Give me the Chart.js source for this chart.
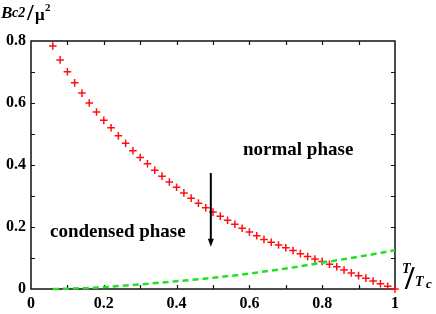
<!DOCTYPE html>
<html><head><meta charset="utf-8">
<script src="https://cdn.jsdelivr.net/npm/chart.js@4"></script>
<style>html,body{margin:0;padding:0;background:#fff}#wrap{width:436px;height:314px;position:relative}</style>
</head><body><div id="wrap"><canvas id="c" width="436" height="314"></canvas></div>
<script>
// Red "+" markers: T/Tc and Bc2/mu^2
const redT = [0.06,0.08,0.10,0.12,0.14,0.16,0.18,0.20,0.22,0.24,0.26,0.28,0.30,0.32,0.34,0.36,0.38,0.40,0.42,0.44,0.46,0.48,0.50,0.52,0.54,0.56,0.58,0.60,0.62,0.64,0.66,0.68,0.70,0.72,0.74,0.76,0.78,0.80,0.82,0.84,0.86,0.88,0.90,0.92,0.94,0.96,0.98,1.00];
const redB = [0.784,0.739,0.701,0.665,0.632,0.600,0.571,0.544,0.520,0.494,0.470,0.446,0.424,0.404,0.383,0.364,0.345,0.328,0.310,0.293,0.277,0.262,0.248,0.235,0.222,0.209,0.196,0.184,0.172,0.160,0.151,0.142,0.133,0.124,0.114,0.105,0.097,0.089,0.080,0.072,0.061,0.052,0.043,0.035,0.026,0.017,0.009,0.000];
// Green dashed curve
const greenT = [0.06,0.10,0.20,0.30,0.40,0.50,0.60,0.70,0.80,0.90,1.00];
const greenB = [0.000,0.001,0.006,0.015,0.025,0.036,0.050,0.066,0.085,0.104,0.125];
// Ticks
const xTickLabels = ["0","0.2","0.4","0.6","0.8","1"];
const yTickLabels = ["0","0.2","0.4","0.6","0.8"];
const minorStep = 0.1;
// Annotations
const arrowT = 0.494, arrowFrom = 0.374, arrowTo = 0.136;
const labelNormal = "normal phase", labelCondensed = "condensed phase";

const SERIF = '"Liberation Serif","Times New Roman",serif';

const decor = {
  id: 'decor',
  beforeDatasetsDraw(chart) {
    const {ctx, chartArea: a, scales: {x, y}} = chart;
    ctx.save();
    ctx.strokeStyle = '#111';
    ctx.lineWidth = 1.5;
    ctx.strokeRect(a.left, a.top, a.right - a.left, a.bottom - a.top);
    ctx.lineWidth = 1.2;
    ctx.beginPath();
    for (let v = minorStep; v < 1 - 1e-6; v += minorStep) {
      const px = Math.round(x.getPixelForValue(v)) + 0.5;
      ctx.moveTo(px, a.bottom); ctx.lineTo(px, a.bottom - 4);
      ctx.moveTo(px, a.top); ctx.lineTo(px, a.top + 4);
    }
    for (let v = minorStep; v < 0.8 - 1e-6; v += minorStep) {
      const py = Math.round(y.getPixelForValue(v)) + 0.5;
      ctx.moveTo(a.left, py); ctx.lineTo(a.left + 4, py);
      ctx.moveTo(a.right, py); ctx.lineTo(a.right - 4, py);
    }
    ctx.stroke();
    ctx.restore();
  },
  afterDatasetsDraw(chart) {
    const {ctx, scales: {x, y}} = chart;
    ctx.save();
    // arrow
    const ax = x.getPixelForValue(arrowT);
    const y1 = y.getPixelForValue(arrowFrom), y2 = y.getPixelForValue(arrowTo);
    ctx.strokeStyle = '#000'; ctx.fillStyle = '#000'; ctx.lineWidth = 2;
    ctx.beginPath(); ctx.moveTo(ax, y1); ctx.lineTo(ax, y2 - 6); ctx.stroke();
    ctx.beginPath(); ctx.moveTo(ax - 3, y2 - 8); ctx.lineTo(ax + 3, y2 - 8); ctx.lineTo(ax, y2); ctx.closePath(); ctx.fill();
    // phase labels
    ctx.font = 'bold 19px ' + SERIF;
    ctx.textBaseline = 'alphabetic';
    ctx.textAlign = 'left';
    ctx.fillText(labelNormal, 243, 155);
    ctx.fillText(labelCondensed, 50, 237);
    // y axis title  Bc2 / mu^2
    ctx.font = 'italic bold 17px ' + SERIF;
    ctx.fillText('B', 1, 18);
    ctx.font = 'italic bold 14px ' + SERIF;
    ctx.fillText('c2', 12, 17);
    ctx.font = 'bold 24px ' + SERIF;
    ctx.fillText('/', 27, 20);
    ctx.font = 'bold 17px ' + SERIF;
    ctx.fillText('\u03BC', 35, 20);
    ctx.font = 'bold 11px ' + SERIF;
    ctx.fillText('2', 45, 11);
    // x axis title T / Tc
    ctx.font = 'italic bold 14px ' + SERIF;
    ctx.fillText('T', 402, 273);
    ctx.font = 'bold 34px ' + SERIF;
    ctx.fillText('/', 405, 289);
    ctx.font = 'italic bold 14px ' + SERIF;
    ctx.fillText('T', 415, 286);
    ctx.font = 'italic bold 13px ' + SERIF;
    ctx.fillText('c', 426, 288);
    ctx.restore();
  }
};

new Chart(document.getElementById('c'), {
  type: 'scatter',
  data: {
    datasets: [
      {
        data: greenT.map((t, i) => ({x: t, y: greenB[i]})),
        showLine: true, borderColor: '#22e022', borderWidth: 2.5, borderDash: [6, 4],
        pointRadius: 0, cubicInterpolationMode: 'monotone', clip: false
      },
      {
        data: redT.map((t, i) => ({x: t, y: redB[i]})),
        pointStyle: 'cross', pointRadius: 3.8, borderColor: '#ff1010', borderWidth: 1.5,
        backgroundColor: '#ff1010', showLine: false, clip: false
      }
    ]
  },
  options: {
    responsive: false, animation: false, devicePixelRatio: 1,
    layout: {padding: {top: 41, right: 41, left: 0, bottom: 0}},
    plugins: {legend: {display: false}, tooltip: {enabled: false}},
    scales: {
      x: {
        type: 'linear', min: 0, max: 1,
        grid: {display: false, drawTicks: false},
        border: {display: false},
        afterFit(s) { s.height = 25; },
        afterBuildTicks(s) { s.ticks = xTickLabels.map(l => ({value: parseFloat(l)})); },
        ticks: {padding: 5, color: '#000', font: {family: SERIF, size: 16, weight: 'bold'}, maxRotation: 0,
          callback: (v, i) => xTickLabels[i]}
      },
      y: {
        type: 'linear', min: 0, max: 0.8,
        grid: {display: false, drawTicks: false},
        border: {display: false},
        afterFit(s) { s.width = 31; },
        afterBuildTicks(s) { s.ticks = yTickLabels.map(l => ({value: parseFloat(l)})); },
        ticks: {padding: 5, color: '#000', font: {family: SERIF, size: 16, weight: 'bold'},
          callback: (v, i) => yTickLabels[i]}
      }
    }
  },
  plugins: [decor]
});
</script>
</body></html>
